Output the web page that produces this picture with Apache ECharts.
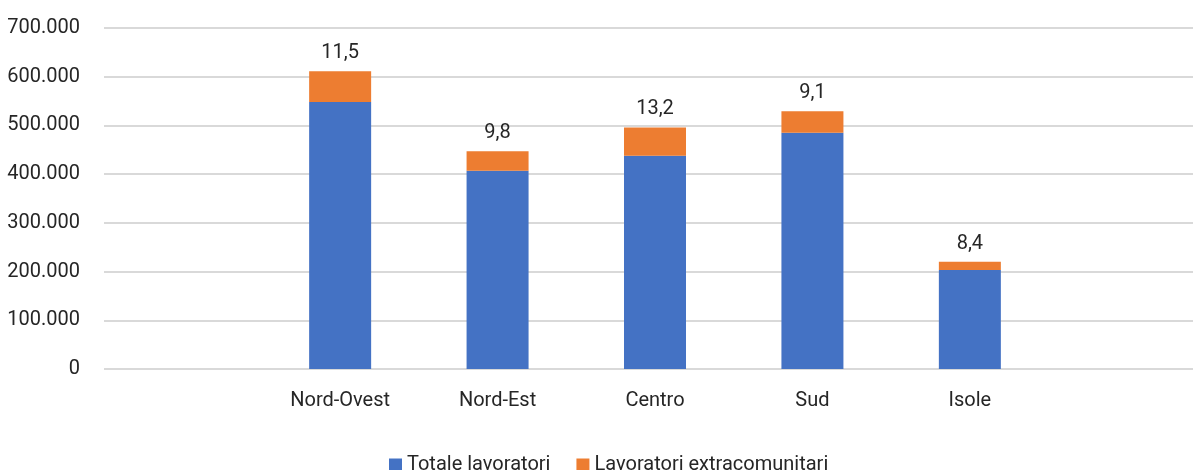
<!DOCTYPE html>
<html>
<head>
<meta charset="utf-8">
<script src="https://cdn.jsdelivr.net/npm/echarts@6/dist/echarts.min.js"></script>
<style>
  html, body { margin: 0; padding: 0; background: #fff; }
  #chart { width: 1193px; height: 470px; }
</style>
</head>
<body>
<div id="chart"></div>
<script>
  // dati
  const regioni = ['Nord-Ovest', 'Nord-Est', 'Centro', 'Sud', 'Isole']
  const totale = [548000, 407000, 438000, 485000, 203000]
  const extra = [63000, 40000, 58000, 44000, 17000]
  const quota = ['11,5', '9,8', '13,2', '9,1', '8,4']
  const yTicks = [0, 100000, 200000, 300000, 400000, 500000, 600000, 700000]

  const font = 'Roboto, "Liberation Sans", sans-serif'
  const fontSize = 20
  const textColor = '#262626'

  // slot vuoti a inizio e fine asse (come nell'originale)
  const cats = [''].concat(regioni, [''])
  const pad = arr => [null].concat(arr, [null])

  const chart = echarts.init(document.getElementById('chart'))

  chart.setOption({
    animation: false,
    textStyle: { fontFamily: font },
    grid: { left: 104, top: 28, width: 1102, bottom: 101, outerBoundsMode: 'none', containLabel: false },
    legend: {
      top: 450,
      left: 384,
      itemWidth: 13,
      itemHeight: 13,
      itemGap: 26,
      icon: 'rect',
      textStyle: { fontFamily: font, fontSize: fontSize, color: textColor },
      data: ['Totale lavoratori', 'Lavoratori extracomunitari']
    },
    xAxis: {
      type: 'category',
      data: cats,
      axisLine: { show: false },
      axisTick: { show: false },
      axisLabel: { fontFamily: font, fontSize: fontSize, color: textColor, margin: 22 }
    },
    yAxis: {
      type: 'value',
      min: yTicks[0],
      max: yTicks[yTicks.length - 1],
      interval: 100000,
      axisLine: { show: false },
      axisTick: { show: false },
      splitLine: { lineStyle: { color: '#d9d9d9', width: 2 } },
      axisLabel: {
        fontFamily: font, fontSize: fontSize, color: textColor, margin: 24,
        formatter: v => v.toString().replace(/\B(?=(\d{3})+(?!\d))/g, '.')
      }
    },
    series: [
      {
        name: 'Totale lavoratori',
        type: 'bar',
        stack: 'tot',
        barWidth: 62,
        itemStyle: { color: '#4472C4' },
        data: pad(totale)
      },
      {
        name: 'Lavoratori extracomunitari',
        type: 'bar',
        stack: 'tot',
        barWidth: 62,
        itemStyle: { color: '#ED7D31' },
        label: {
          show: true,
          position: 'top',
          distance: 8,
          fontFamily: font,
          fontSize: fontSize,
          color: textColor,
          formatter: p => quota[p.dataIndex - 1]
        },
        data: pad(extra)
      }
    ]
  })
</script>
</body>
</html>
